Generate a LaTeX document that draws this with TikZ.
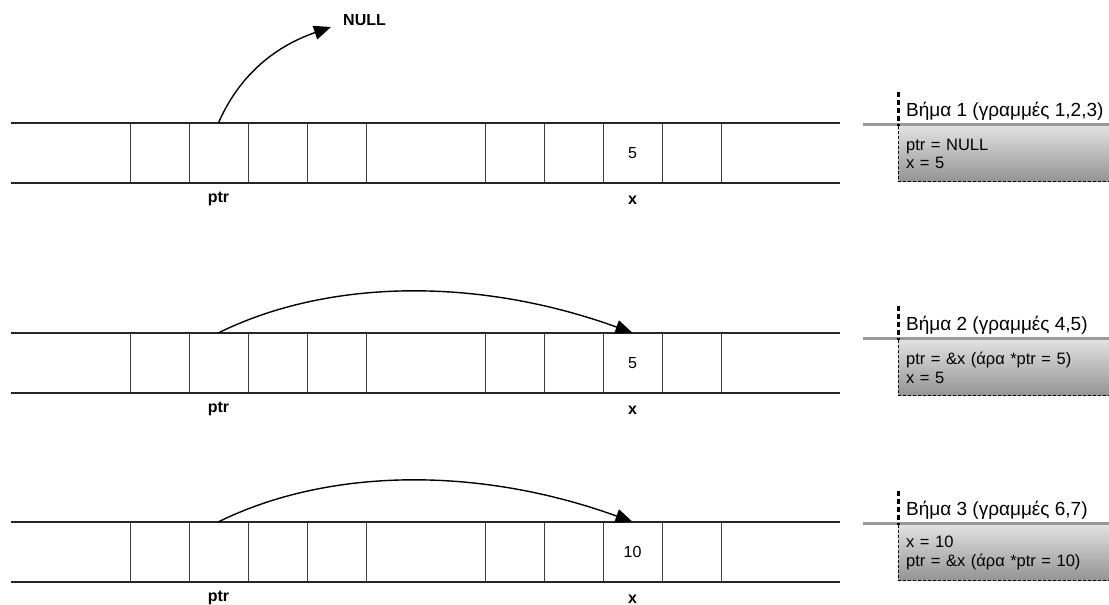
\documentclass[tikz,border=0pt]{standalone}
\usepackage{fontspec}
\setmainfont{Liberation Sans}
\usetikzlibrary{arrows.meta}
\begin{document}
\begin{tikzpicture}[x=1pt,y=-1pt,
  rail/.style={line width=1.6pt,draw=black!85},
  wall/.style={line width=1pt,draw=black!75},
  cell/.style={minimum width=59pt,minimum height=60pt,inner sep=0pt,font=\fontsize{16}{18}\selectfont},
  lbl/.style={font=\bfseries\fontsize{16}{18}\selectfont,inner sep=0pt},
  ptrarrow/.style={line width=1.4pt,-{Triangle[length=17pt,width=14pt]}},
  steptitle/.style={font=\fontsize{19}{21}\selectfont,inner sep=0pt,anchor=base west},
  sepline/.style={line width=3pt,draw=black!40},
  stepbox/.style={anchor=north west,top color=black!12,bottom color=black!42,minimum height=55pt,
    text width=195pt,inner xsep=8pt,inner ysep=0pt,align=left,font=\fontsize{16.5}{18.5}\selectfont},
  boxedge/.style={line width=0.8pt,dash pattern=on 3pt off 2pt},
  marker/.style={line width=3pt,dash pattern=on 5pt off 3pt}
]
\useasboundingbox (0,0) rectangle (1109,605);

% memory strips
\foreach \k/\T/\v in {1/123/5,2/333/5,3/522/10}{
  \foreach \x in {130,189,248,307,366,485,544,603,662,721}
    \draw[wall] (\x,\T) -- (\x,\T+60);
  \draw[rail] (11,\T) -- (840,\T);
  \draw[rail] (11,\T+60) -- (840,\T+60);
  \node[cell] (p\k) at (218.5,\T+30) {};
  \node[cell] (x\k) at (632.5,\T+30) {\v};
  \node[lbl] (pl\k) at (218.5,\T+76) {ptr};
  \node[lbl] (xl\k) at (632.5,\T+77) {x};
}

% NULL pointer
\node[lbl,anchor=west] (null) at (343,20) {NULL};
\coordinate (nulltip) at (331,27);
\draw[ptrarrow] (p1.north) .. controls (235,85) and (265,50) .. (nulltip);

% ptr -> x
\draw[ptrarrow] (p2.north) .. controls +(112,-55) and +(-152,-55) .. (x2.north);
\draw[ptrarrow] (p3.north) .. controls +(112,-55) and +(-152,-55) .. (x3.north);

% step notes
\foreach \k/\G/\title/\la/\lb in {
  1/124/{Βήμα 1 (γραμμές 1,2,3)}/{ptr = NULL}/{x = 5},
  2/338/{Βήμα 2 (γραμμές 4,5)}/{ptr = \&x (άρα *ptr = 5)}/{x = 5},
  3/523/{Βήμα 3 (γραμμές 6,7)}/{x = 10}/{ptr = \&x (άρα *ptr = 10)}}{
  \node[stepbox] (b\k) at (898,\G+2) {\la\\\lb};
  \draw[sepline] (863,\G) -- (1109,\G);
  \node[steptitle] (t\k) at (906,\G-8) {\title};
  \draw[boxedge] (b\k.north west) -- (b\k.south west) -- (b\k.south east);
  \coordinate (m\k) at (898,\G-32);
  \draw[marker] (m\k) -- (b\k.north west);
}
\end{tikzpicture}
\end{document}
